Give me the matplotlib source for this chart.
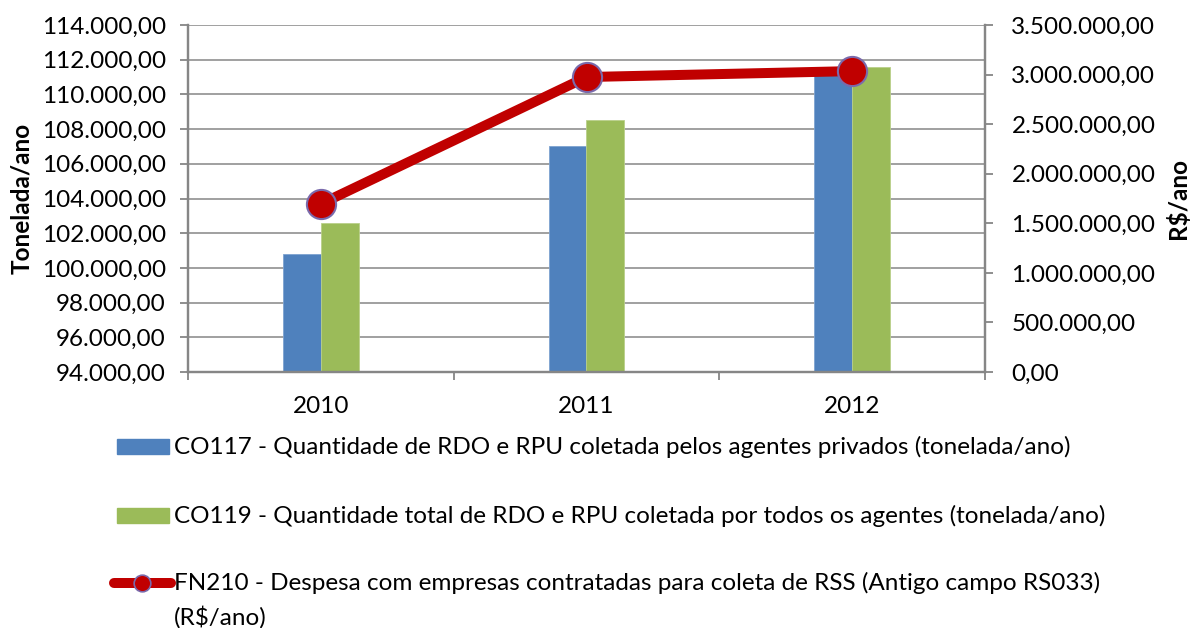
import matplotlib.pyplot as plt
import matplotlib as mpl
import numpy as np
from matplotlib.ticker import FuncFormatter, MultipleLocator
from matplotlib.patches import Rectangle
from matplotlib.lines import Line2D

mpl.rcParams['font.family'] = ['Lato', 'DejaVu Sans']

anos = ['2010', '2011', '2012']
co117 = [100800, 107000, 111200]
co119 = [102600, 108550, 111600]
fn210 = [1695000, 2975000, 3035000]

lbl_co117 = 'CO117 - Quantidade de RDO e RPU coletada pelos agentes privados (tonelada/ano)'
lbl_co119 = 'CO119 - Quantidade total de RDO e RPU coletada por todos os agentes (tonelada/ano)'
lbl_fn210 = ['FN210 - Despesa com empresas contratadas para coleta de RSS (Antigo campo RS033)', '(R$/ano)']

azul = '#4F81BD'
verde = '#9BBB59'
vermelho = '#C00000'
cinza = '#868686'
fs = 17.5

W, H = 1192, 628


def br(v, pos=None):
    s = f'{v:,.2f}'
    return s.replace(',', 'X').replace('.', ',').replace('X', '.')


def fx(px):
    return px / W


def fy(py):
    return 1 - py / H


fig = plt.figure(figsize=(W / 100, H / 100), dpi=100)
ax = fig.add_axes([fx(188), fy(372), fx(985) - fx(188), fy(25) - fy(372)])
ax2 = ax.twinx()

x = np.arange(len(anos))
w = 0.143
ax.bar(x - w / 2, co117, w, color=azul, edgecolor='#7ea3d1', linewidth=0.6, zorder=2)
ax.bar(x + w / 2, co119, w, color=verde, edgecolor='#b9d08a', linewidth=0.6, zorder=2)

ax.set_xlim(-0.5, 2.5)
ax.set_ylim(94000, 114000)
ax.yaxis.set_major_locator(MultipleLocator(2000))
ax.yaxis.set_major_formatter(FuncFormatter(br))
ax.grid(axis='y', color=cinza, linewidth=1.1, zorder=0)
ax.set_axisbelow(True)

ax.set_xticks(x)
ax.set_xticklabels(anos)
ax.set_xticks([-0.5, 0.5, 1.5, 2.5], minor=True)
ax.tick_params(axis='x', which='major', length=0, pad=17, labelsize=fs)
ax.tick_params(axis='x', which='minor', length=6, width=1.3, color=cinza, direction='out')
ax.tick_params(axis='y', length=6, width=1.3, color=cinza, pad=10, labelsize=fs)

ax2.plot(x, fn210, color=vermelho, linewidth=7.2, marker='o', markersize=21,
         markerfacecolor=vermelho, markeredgecolor='#7a6aac', markeredgewidth=1.5,
         solid_capstyle='round', zorder=3)
ax2.set_ylim(0, 3500000)
ax2.yaxis.set_major_locator(MultipleLocator(500000))
ax2.yaxis.set_major_formatter(FuncFormatter(br))
ax2.tick_params(axis='y', length=6, width=1.3, color=cinza, pad=13, labelsize=fs)

for a in (ax, ax2):
    for s in ('left', 'right', 'bottom'):
        a.spines[s].set_color(cinza)
        a.spines[s].set_linewidth(1.6)
    a.spines['top'].set_visible(False)

ax.set_ylabel('Tonelada/ano', fontsize=fs, fontweight='bold', va='center')
ax.yaxis.set_label_coords((22 - 188) / 797, 0.5)
ax2.set_ylabel('R$/ano', fontsize=fs, fontweight='bold', va='center', rotation=90)
ax2.yaxis.set_label_coords((1178 - 188) / 797, 0.5)

# legenda montada à mão (o último item quebra em duas linhas)
fig.add_artist(Rectangle((fx(117), fy(454)), fx(169) - fx(117), 15 / H, color=azul))
fig.add_artist(Rectangle((fx(117), fy(523)), fx(169) - fx(117), 15 / H, color=verde))
fig.add_artist(Line2D([fx(114), fx(171)], [fy(583), fy(583)], color=vermelho, linewidth=7.2,
                      solid_capstyle='round'))
fig.add_artist(Line2D([fx(142)], [fy(583)], marker='o', markersize=12, color=vermelho,
                      markeredgecolor='#7a6aac', markeredgewidth=1.2))
fig.text(fx(174), fy(447), lbl_co117, fontsize=fs, va='center')
fig.text(fx(174), fy(516), lbl_co119, fontsize=fs, va='center')
fig.text(fx(174), fy(583), lbl_fn210[0], fontsize=fs, va='center')
fig.text(fx(174), fy(617), lbl_fn210[1], fontsize=fs, va='center')

fig.savefig('out.png', dpi=100)
